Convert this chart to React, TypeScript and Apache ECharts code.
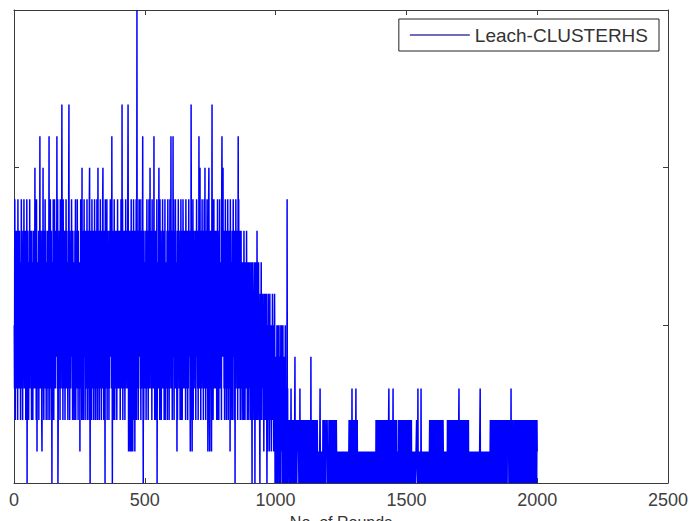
import React, { useEffect, useRef } from "react";
import * as echarts from "echarts";

// Number of cluster heads per round, one hex character per round (a=10, b=11, c=12, f=15).
// Rounds 1-1000
const phase1Rows: string[] = [
  "5396274853 6482957364 8537264938 4627385946 3758246390 6384725639 4758362847 527384635a 4836295174 63582746b3",
  "7483621583 a362847593 4827365382 637b482694 5384072639 8263957384 485b639027 6384729538 47c8362957 3648257394",
  "583742639c 4827365849 6352847362 7483925648 3956284735 617394852a 4736285947 5283647392 63847529a4 0857362948",
  "3748265937 6284739526 a473825649 538274639a 4728365094 6384927538 4726385947 583b608472 6395274836 4827593648",
  "5374826395 73c4928563 4862739584 63849c7148 5731862913 6481739526 718364925f 4837265948 5936284739 6b40728536",
  "4738265947 362859473a 5847362958 6374b58263 4826390574 638a472958 4726385937 5382749264 7463825948 362849375b",
  "4837264b59 6283749536 7418263958 5736284927 4825397638 6374829537 4862735948 583172c846 1749263857 4638275946",
  "538274b639 a472836594 637284953a 4826375948 1739a62185 638417c495 2749365837 5836274926 4728395647 3629b748a5",
  "4837265938 6274839526 5384719627 4638275946 7258063947 483726b594 3748265837 5264736285 3726475384 6253746257",
  "4736254730 6274635267 0537264283 6425736420 5364725346 3625142636 4253620415 3642513624 5231452635 2415364042",
];
// Rounds 1001-2000
const phase2Rows: string[] = [
  "1402513025 3150241305 2451302514 0314205130 2109130212 1202102130 0210120201 1024012021 0121212102 1030201202",
  "0120102102 2010210120 1020120201 0210402012 1020210120 2010201021 0110101003 0101101010 2012102010 1021212101",
  "0102010210 2012021020 1020120201 0210101001 1010010110 0101101001 1010010101 0110100101 2010210202 0301202102",
  "1020213012 0201010101 1001011010 0101100101 1011010010 0100110101 1010011010 0101001101 0102010201 2012020102",
  "1020210120 0201202101 2012010201 0231020120 1020120130 2010210201 0201010102 0120201202 1020120201 0210201021",
  "2012010201 0201201020 1010100101 0101001121 1103010100 0101030101 1001010110 0110100101 1010010120 1202010210",
  "2010201202 0120102010 2010210201 0201020102 1010010101 0101102010 2012010210 1020201021 0210120102 1020102012",
  "3010201202 0120102102 2010201201 0201202010 1010100101 0101010010 1001011010 0110100101 1301001010 0101101001",
  "1010010110 0101101001 2010210201 0201020102 1020120210 2012010201 0210201020 1020102012 0201021212 1020120103",
  "0201202010 1020120201 0210201021 2010210120 0201020102 1020102010 2012010201 0201201020 1020120210 0210201021",
];

const xTicks = [0, 500, 1000, 1500, 2000, 2500];
const seriesName = "Leach-CLUSTERHS";
const xAxisName = "No. of Rounds";

const decode = (rows: string[]): number[] =>
  rows
    .join("")
    .replace(/\s/g, "")
    .split("")
    .map((c) => parseInt(c, 16));

const values: number[] = [...decode(phase1Rows), ...decode(phase2Rows)];
const points = values.map((v, i) => [i + 1, v]);

const AXIS_COLOR = "#3a3a3a";
const FONT = "'Liberation Sans', Arial, sans-serif";

export default function App() {
  const ref = useRef<HTMLDivElement>(null);

  useEffect(() => {
    if (!ref.current) return;
    const chart = echarts.init(ref.current, undefined, { renderer: "svg" });
    const xCommon = {
      type: "value" as const,
      min: xTicks[0],
      max: xTicks[xTicks.length - 1],
      interval: 500,
      axisLine: { show: true, onZero: false, lineStyle: { color: AXIS_COLOR, width: 1 } },
      axisTick: { show: true, inside: true, length: 5, lineStyle: { color: AXIS_COLOR } },
      splitLine: { show: false },
    };
    const yCommon = {
      type: "value" as const,
      min: 0,
      max: 15,
      interval: 5,
      axisLine: { show: true, onZero: false, lineStyle: { color: AXIS_COLOR, width: 1 } },
      axisTick: { show: true, inside: true, length: 5, lineStyle: { color: AXIS_COLOR } },
      axisLabel: { show: false },
      splitLine: { show: false },
    };
    chart.setOption({
      animation: false,
      backgroundColor: "#ffffff",
      grid: {
        left: 14,
        right: 21,
        top: 10,
        bottom: 38,
        containLabel: false,
        outerBoundsMode: "none",
      },
      legend: {
        data: [seriesName],
        right: 30,
        top: 19,
        orient: "horizontal",
        padding: [6, 11, 6, 11],
        borderColor: "#222",
        borderWidth: 1,
        backgroundColor: "#fff",
        icon: "rect",
        itemWidth: 60,
        itemHeight: 1.5,
        itemStyle: { color: "#3c3ca8" },
        textStyle: { fontSize: 19, color: "#333", fontFamily: FONT, lineHeight: 20 },
      },
      xAxis: [
        {
          ...xCommon,
          position: "bottom",
          name: xAxisName,
          nameLocation: "middle",
          nameGap: 31,
          nameTextStyle: { fontSize: 16, color: "#333", fontFamily: FONT },
          axisLabel: {
            show: true,
            margin: 8,
            fontSize: 18,
            color: "#404040",
            fontFamily: FONT,
            formatter: (v: number) => String(v),
          },
        },
        {
          ...xCommon,
          position: "top",
          axisLabel: { show: false },
        },
      ],
      yAxis: [
        { ...yCommon, position: "left" },
        { ...yCommon, position: "right" },
      ],
      series: [
        {
          name: seriesName,
          type: "line",
          data: points,
          xAxisIndex: 0,
          yAxisIndex: 0,
          symbol: "none",
          showSymbol: false,
          clip: true,
          lineStyle: { color: "#0000ff", width: 1.5 },
          itemStyle: { color: "#0000ff" },
        },
      ],
    });
    return () => chart.dispose();
  }, []);

  return (
    <div
      ref={ref}
      style={{ position: "fixed", left: 0, top: 0, width: 689, height: 521, background: "#fff" }}
    />
  );
}
